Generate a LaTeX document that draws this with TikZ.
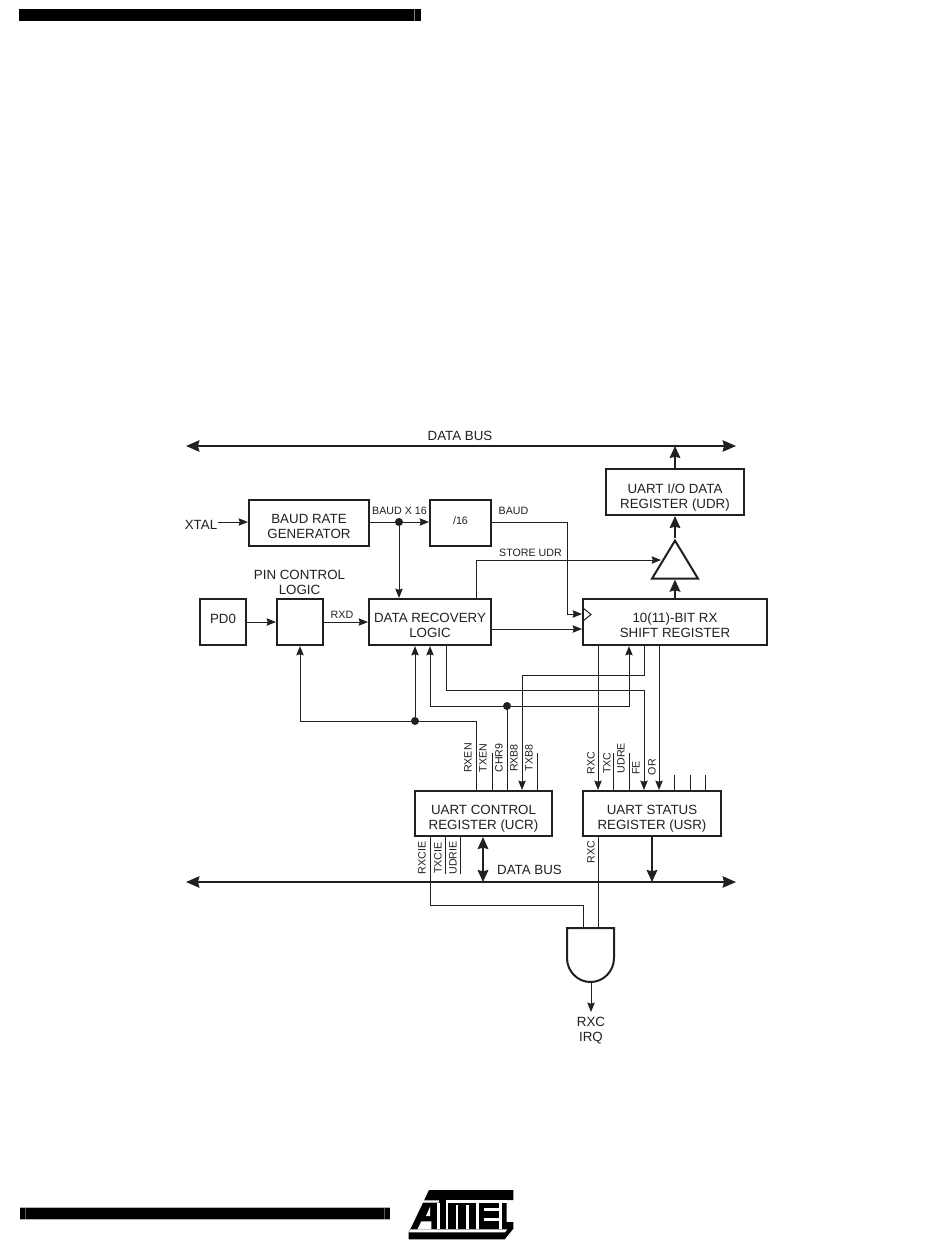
\documentclass[tikz,border=0pt]{standalone}
\usepackage{fontspec}
\setmainfont{Liberation Sans}
\usetikzlibrary{arrows.meta,shapes.geometric}
\definecolor{ink}{HTML}{231F20}
\newcommand{\bigfont}{\fontsize{10}{11.25}\selectfont}
\newcommand{\smallfont}{\fontsize{8}{9.5}\selectfont}
\newcommand{\dropline}{\rule{0pt}{12pt}}
\newcommand{\dropparen}{\rule{0pt}{15.5pt}}
\tikzset{
  bx/.style 2 args={minimum width=#1*0.75pt,minimum height=#2*0.75pt},
  regbox/.style={draw=ink,line width=1.5pt,inner sep=0pt,align=center,font=\bigfont,text=ink},
  thinline/.style={draw=ink,line width=0.75pt},
  thinarrow/.style={thinline,-{Stealth[length=7pt,width=5.5pt,inset=0.8pt]}},
  thickline/.style={draw=ink,line width=1.5pt,-{Stealth[length=9pt,width=8pt,inset=1pt]}},
  thickboth/.style={draw=ink,line width=1.5pt,{Stealth[length=9pt,width=8pt,inset=1pt]}-{Stealth[length=9pt,width=8pt,inset=1pt]}},
  busline/.style={draw=ink,line width=1.5pt,{Stealth[length=10pt,width=8.5pt,inset=1pt]}-{Stealth[length=10pt,width=8.5pt,inset=1pt]}},
  joint/.style={circle,fill=ink,draw=none,minimum size=6pt,inner sep=0pt},
  biglabel/.style={font=\bigfont,text=ink,inner sep=0pt,align=center},
  smalllabel/.style={font=\smallfont,text=ink,inner sep=0pt},
  vlabel/.style={font=\smallfont,text=ink,inner sep=0pt,rotate=90},
}
\begin{document}
\begin{tikzpicture}[x=0.75pt,y=-0.75pt]
\useasboundingbox (0,0) rectangle (950,1254);
\fill[white] (0,0) rectangle (950,1254);
% page bars
\fill[black] (19,9) rectangle (421,21);
\fill[gray] (414,9) rectangle (415,21);
\fill[black] (20,1207) rectangle (390,1219);
\fill[gray!70!black] (25,1207) rectangle (26,1219);
\fill[gray!70!black] (384,1207) rectangle (385,1219);
\draw[gray!60,line width=0.4pt] (20,1207) -- (390,1207) (20,1219) -- (390,1219);
% logo
\begin{scope}[shift={(404,1186)},x=0.25pt,y=-0.25pt]
\fill[black] (75,12) -- (328,12) -- (328,42) -- (308,42) -- (308,108) -- (328,108) -- (328,128) -- (302,160) -- (14,160) -- (14,138) -- (20,128) -- cycle;
\fill[white] (58,43) -- (105,43) -- (105,50) -- (54,50) -- cycle;
\fill[white] (125,43) -- (308,43) -- (308,50) -- (125,50) -- cycle;
\fill[white] (20,130) -- (310,130) -- (303,139) -- (14,139) -- cycle;
\fill[white] (66,90) -- (78,62) -- (78,90) -- cycle;
\fill[white] (52,106) -- (82,106) -- (82,130) -- (40,130) -- cycle;
\fill[white] (100,50) rectangle (108,130);
\fill[white] (125,50) rectangle (133,130);
\fill[white] (155,58) rectangle (163,130);
\fill[white] (187,58) rectangle (195,130);
\fill[white] (216,50) rectangle (224,130);
\fill[white] (240,66) rectangle (288,74);
\fill[white] (240,96) rectangle (288,104);
\fill[white] (286,50) rectangle (294,130);
\end{scope}
% named rails
\foreach \v in {415,430,446,476,492,507,522,537,567,598,613,629,644,659,674,690,705,583,445,460}{\coordinate (x\v) at (\v,0);}
\foreach \v in {560,614,629,675,690,706,721,753,775,874,905}{\coordinate (y\v) at (0,\v);}
% buses
\coordinate (btl) at (186,446); \coordinate (btr) at (736,446);
\coordinate (bbl) at (186,882); \coordinate (bbr) at (736,882);
\draw[busline] (btl) -- (btr);
\draw[busline] (bbl) -- (bbr);
\node[biglabel] (lbus1) at (460,436) {DATA BUS};
\node[biglabel] (lbus2) at (529.5,870) {DATA BUS};
% boxes
\node[regbox,bx={120}{46}] (baud) at (309,523) {\dropline BAUD RATE\\GENERATOR};
\node[regbox,bx={61}{46},font=\smallfont] (div) at (460.5,523) {\raisebox{3pt}{/16}};
\node[regbox,bx={46}{46}] (pd) at (223,622) {\raisebox{5pt}{PD0}};
\node[regbox,bx={46}{46}] (pin) at (300,622) {};
\node[regbox,bx={122}{46}] (drl) at (430,622) {\dropline DATA RECOVERY\\LOGIC};
\node[regbox,bx={184}{46}] (shift) at (675,622) {\dropline 10(11)-BIT RX\\SHIFT REGISTER};
\node[regbox,bx={138}{46}] (udr) at (675,492) {\dropparen UART I/O DATA\\REGISTER (UDR)};
\node[regbox,bx={137}{45}] (ucr) at (483.5,813.5) {\dropparen UART CONTROL\\REGISTER (UCR)};
\node[regbox,bx={138}{45}] (usr) at (652,813.5) {\dropparen UART STATUS\\REGISTER (USR)};
\node[draw=ink,line width=1.5pt,isosceles triangle,isosceles triangle stretches,shape border rotate=90,minimum width=34.5pt,minimum height=28.5pt,inner sep=0pt,anchor=apex] (tri) at (675,538) {};
\coordinate (storetip) at (661,560);
% free labels
\node[biglabel] (xtal) at (201,525) {XTAL};
\coordinate (xtalend) at (218,522);
\node[biglabel] (lpin) at (299.5,582) {PIN CONTROL\\LOGIC};
\node[smalllabel] (lbaudx) at (399.5,511) {BAUD X 16};
\node[smalllabel] (lbaud) at (513.5,511) {BAUD};
\node[smalllabel] (lstore) at (530.5,553) {STORE UDR};
\node[smalllabel] (lrxd) at (342,614.5) {RXD};
% clock mark
\coordinate (cka) at (583,608); \coordinate (ckb) at (591,614.5); \coordinate (ckc) at (583,621);
\draw[thinline] (cka) -- (ckb) -- (ckc);
% top connectors
\draw[thinarrow] (xtalend) -- (baud.west |- xtalend);
\node[joint] (j1) at (399,522) {};
\draw[thinarrow] (baud.east |- j1) -- (div.west |- j1);
\draw[thinarrow] (j1) -- (j1 |- drl.north);
\draw[thinarrow] (pd.east) -- (pin.west);
\draw[thinarrow] (pin.east) -- (drl.west);
\draw[thinarrow] (div.east |- j1) -| (x567 |- y614) -- (shift.west |- y614);
\draw[thinarrow] (drl.east |- y629) -- (shift.west |- y629);
\draw[thinarrow] (drl.north -| x476) |- (storetip);
\draw[thickline] (shift.north) -- (tri.south);
\draw[thickline] (tri.apex) -- (udr.south);
\draw[thickline] (udr.north) -- (udr.north |- btr);
% control connectors
\node[joint] (j2) at (415,721) {};
\node[joint] (j3) at (507,706) {};
\draw[thinline] (ucr.north -| x476) |- (j2);
\draw[thinarrow] (j2) -| (pin.south);
\draw[thinarrow] (j2) -- (j2 |- drl.south);
\draw[thinline] (ucr.north -| x507) -- (j3);
\draw[thinarrow] (j3) -| (drl.south -| x430);
\draw[thinarrow] (j3) -| (shift.south -| x629);
\draw[thinarrow] (shift.south -| x644) |- (x522 |- y675) -- (ucr.north -| x522);
\draw[thinarrow] (drl.south -| x446) |- (x644 |- y690) -- (usr.north -| x644);
\draw[thinarrow] (shift.south -| x598) -- (usr.north -| x598);
\draw[thinarrow] (shift.south -| x659) -- (usr.north -| x659);
% stubs
\draw[thinline] (ucr.north -| x492) -- (x492 |- y753);
\draw[thinline] (ucr.north -| x537) -- (x537 |- y753);
\draw[thinline] (usr.north -| x613) -- (x613 |- y753);
\draw[thinline] (usr.north -| x629) -- (x629 |- y753);
\draw[thinline] (usr.north -| x674) -- (x674 |- y775);
\draw[thinline] (usr.north -| x690) -- (x690 |- y775);
\draw[thinline] (usr.north -| x705) -- (x705 |- y775);
\draw[thinline] (ucr.south -| x445) -- (x445 |- y874);
\draw[thinline] (ucr.south -| x460) -- (x460 |- y874);
% vertical labels
\node[vlabel] (vrxen) at (468,758) {RXEN};
\node[vlabel] (vtxen) at (483,758) {TXEN};
\node[vlabel] (vchr) at (499,758) {CHR9};
\node[vlabel] (vrxb) at (514,758) {RXB8};
\node[vlabel] (vtxb) at (529,758) {TXB8};
\node[vlabel] (vrxc) at (591,763) {RXC};
\node[vlabel] (vtxc) at (607,763) {TXC};
\node[vlabel] (vudre) at (621,758) {UDRE};
\node[vlabel] (vfe) at (636,768) {FE};
\node[vlabel] (vor) at (652,767) {OR};
\node[vlabel] (vrxcie) at (422,858) {RXCIE};
\node[vlabel] (vtxcie) at (438,858) {TXCIE};
\node[vlabel] (vudrie) at (453,858) {UDRIE};
\node[vlabel] (vrxc2) at (591,852) {RXC};
% bottom
\draw[thickboth] (ucr.south -| 483,0) -- (483,882);
\draw[thickline] (usr.south) -- (usr.south |- bbr);
\coordinate (gin1) at (583,928); \coordinate (gin2) at (598,928); \coordinate (gout) at (591,982); \coordinate (irqend) at (591,1012);
\draw[thinline] (ucr.south -| x430) |- (x583 |- y905) -- (gin1);
\draw[thinline] (usr.south -| x598) -- (gin2);
\draw[draw=ink,line width=1.5pt,line join=miter] (567,928) -- (614,928) -- (614,958) arc[start angle=0,end angle=180,x radius=23.5,y radius=24] -- cycle;
\draw[thinarrow] (gout) -- (irqend);
\node[biglabel] (lirq) at (591,1030.5) {RXC\\IRQ};
\end{tikzpicture}
\end{document}
